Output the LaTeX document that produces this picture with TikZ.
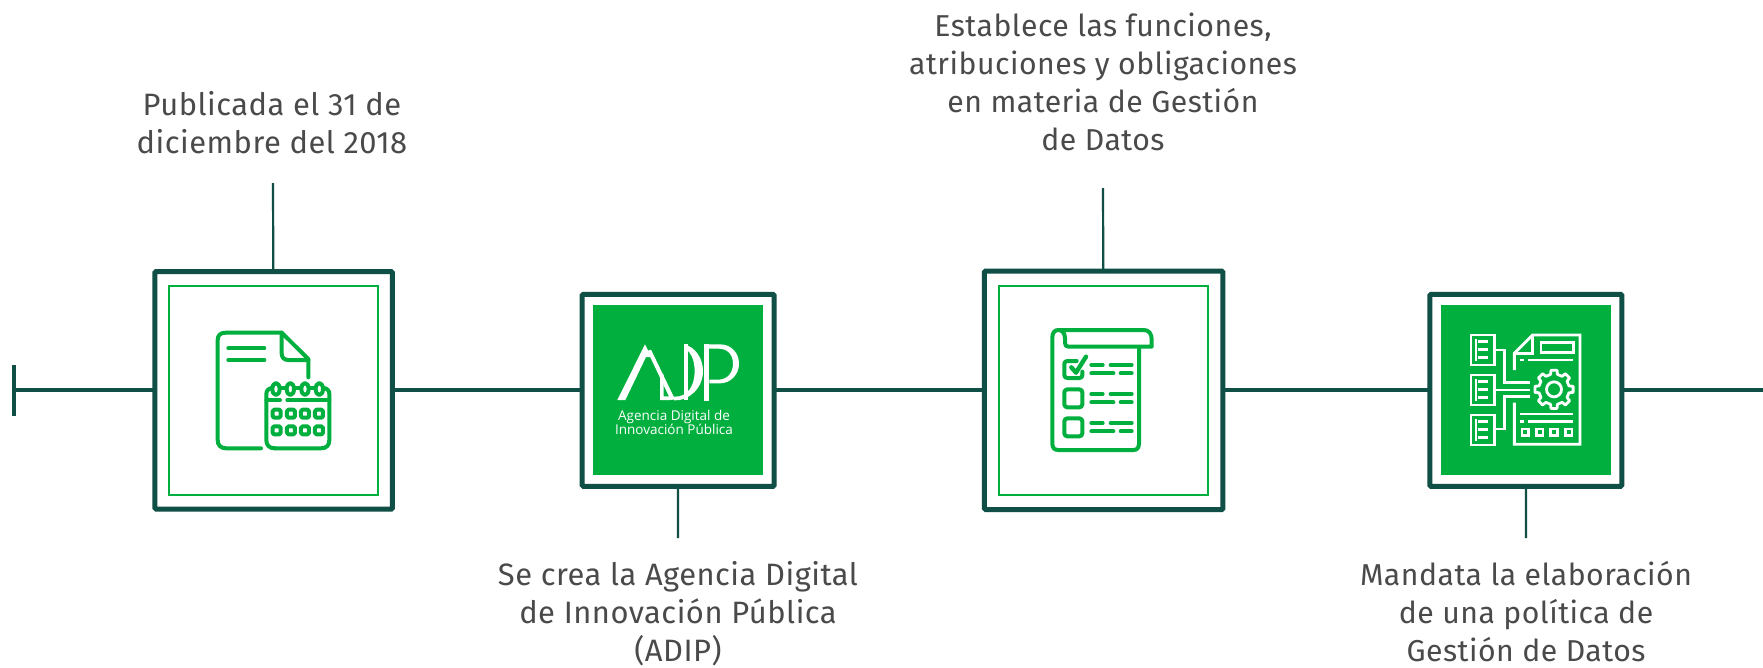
\documentclass[tikz,border=0pt]{standalone}
\usepackage{fontspec}
\setmainfont{Fira Sans}
\newfontfamily\lblfont[LetterSpace=1.6]{Fira Sans}
\newfontfamily\logofont{Open Sans}
\definecolor{teal}{HTML}{0F4F45}
\definecolor{leaf}{HTML}{00AF3E}
\definecolor{ink}{HTML}{4A4A4A}
\tikzset{
  outerbox/.style={draw=teal,line width=5pt,fill=white,rounded corners=1.2pt,inner sep=0pt,outer sep=0pt},
  innerline/.style={draw=leaf,line width=2pt,inner sep=0pt,outer sep=0pt,minimum size=209pt},
  innerfill/.style={fill=leaf,inner sep=0pt,outer sep=0pt,minimum size=170pt},
  maintrack/.style={draw=teal,line width=4pt},
  stem/.style={draw=teal,line width=2.2pt},
  lbl/.style={text=ink,font=\lblfont\fontsize{30.2}{38}\selectfont,align=center,inner sep=0pt},
  lblwide/.style={lbl,font=\lblfont\fontsize{30.9}{38}\selectfont},
  ico/.style={draw=leaf,line width=4pt,line cap=round,line join=round,fill=none},
  wico/.style={draw=white,line width=2.8pt,fill=none},
  zoomed/.style={x=0.33333pt,y=-0.33333pt}
}
\begin{document}
\begin{tikzpicture}[x=1pt,y=-1pt]
\useasboundingbox[fill=white] (0,0) rectangle (1763,667);
% frames
\node[outerbox,minimum size=237.5pt] (a) at (273.7,390.3) {};
\node[innerline] (ai) at (273.3,390.3) {};
\node[outerbox,minimum size=192pt] (b) at (678.2,390.3) {};
\node[innerfill] (bi) at (677.9,390.2) {};
\node[outerbox,minimum size=238.5pt] (c) at (1103.7,390.3) {};
\node[innerline] (ci) at (1103.5,390.2) {};
\node[outerbox,minimum size=192pt] (d) at (1525.8,390.3) {};
\node[innerfill] (di) at (1525.8,390.2) {};
% track
\coordinate (t0) at (14,390.3);
\coordinate (tu) at (14,365);
\coordinate (td) at (14,415.5);
\coordinate (tend) at (1763,390.3);
\draw[maintrack] (tu) -- (td);
\draw[maintrack] (t0) -- (a) (a) -- (b) (b) -- (c) (c) -- (d) (d) -- (tend);
% stems
\coordinate (sa) at (273,183);
\coordinate (sb) at (678,538);
\coordinate (sc) at (1103,188);
\coordinate (sd) at (1526,538);
\draw[stem] (sa) -- (a);
\draw[stem] (sb) -- (b);
\draw[stem] (sc) -- (c);
\draw[stem] (sd) -- (d);
% labels
\node[lblwide] (la) at (272,122.5) {Publicada el 31 de\\diciembre del 2018};
\node[lblwide] (lb) at (678,614) {Se crea la Agencia Digital\\de Innovación Pública\\(ADIP)};
\node[lbl] (lc) at (1103,81.5) {Establece las funciones,\\atribuciones y obligaciones\\en materia de Gestión\\de Datos};
\node[lbl] (ld) at (1526,611.5) {Mandata la elaboración\\de una política de\\Gestión de Datos};
% icon 1: document and calendar
\begin{scope}[shift={(0,240)},zoomed]
\draw[ico] (783,625) -- (680,625) .. controls (662,625) and (653,616) .. (653,600) -- (653,300) .. controls (653,285) and (662,278) .. (678,278) -- (845,278) -- (925,357) -- (925,412);
\draw[ico] (845,278) -- (845,340) .. controls (845,352) and (852,360) .. (865,360) -- (925,360);
\draw[ico] (685,325) -- (793,325);
\draw[ico] (685,360) -- (793,360);
\draw[ico] (825,625) .. controls (808,625) and (799,616) .. (799,600) -- (799,462) .. controls (799,452) and (805,446) .. (815,444);
\draw[ico] (825,625) -- (962,625) .. controls (980,625) and (988,616) .. (988,600) -- (988,462) .. controls (988,452) and (982,446) .. (972,444);
\draw[ico] (799,480) -- (840,480);
\draw[ico] (862,480) -- (988,480);
\draw[ico] (842,445) -- (858,445);
\draw[ico] (885,445) -- (901,445);
\draw[ico] (929,445) -- (945,445);
\foreach \x in {828,871,915,958} {
  \draw[ico,fill=white] (\x,447) ellipse [x radius=11,y radius=18];
}
\foreach \y in {521,571} \foreach \x in {830,873,915,957} {
  \draw[ico,rounded corners=1.5pt] (\x-12,\y-12) rectangle (\x+12,\y+12);
}
\end{scope}
% icon 2: ADIP logo
\begin{scope}[shift={(610,335)},zoomed]
\fill[white] (22,195) -- (105,28) -- (124,66) -- (108,66) -- (46,195) -- cycle;
\fill[white] (112,48) -- (123,44) -- (195,193) -- (182,195) -- cycle;
\fill[white] (150,118) -- (161,118) -- (161,184) -- (178,184) -- (182,195) -- (150,195) -- cycle;
\fill[white] (222,28) -- (233,28) -- (233,195) -- (222,195) -- cycle;
\fill[white] (222,28) .. controls (255,35) and (279,70) .. (279,108) .. controls (279,160) and (235,199) .. (192,196) -- (192,185) .. controls (235,187) and (254,150) .. (254,108) .. controls (254,72) and (240,47) .. (222,40) -- cycle;
\fill[white] (282,28) -- (298,28) -- (298,197) -- (282,197) -- cycle;
\fill[white] (282,28) -- (330,28) .. controls (365,28) and (387,55) .. (387,86) .. controls (387,118) and (362,145) .. (330,145) -- (298,145) -- (298,134) -- (325,134) .. controls (353,134) and (369,112) .. (369,86) .. controls (369,58) and (352,41) .. (325,41) -- (282,41) -- cycle;
\end{scope}
\node[text=white,font=\logofont\fontsize{13.5}{13.3}\selectfont,align=center,inner sep=0pt] (bt) at (674,422.5) {Agencia Digital de\\Innovación Pública};
% icon 3: checklist
\begin{scope}[shift={(970,260)},zoomed]
\draw[ico] (507,262) -- (507,550) .. controls (507,565) and (500,570) .. (490,570) -- (265,570) .. controls (252,570) and (247,563) .. (247,550) -- (247,232) .. controls (247,218) and (254,210) .. (265,210) -- (522,210) .. controls (537,210) and (545,222) .. (545,238) -- (545,260) -- (295,260) .. controls (288,260) and (285,256) .. (285,248) -- (285,235) .. controls (285,220) and (277,210) .. (265,210);
\draw[ico] (337,335) -- (337,345) .. controls (337,351) and (334,354) .. (328,354) -- (292,354) .. controls (286,354) and (283,351) .. (283,345) -- (283,312) .. controls (283,306) and (286,303) .. (292,303) -- (320,303);
\draw[ico,line width=4.4pt] (304,322) -- (318,338) -- (348,290);
\foreach \y in {388,475} {
  \draw[ico,rounded corners=3pt] (283,\y) rectangle (337,\y+54);
}
\foreach \y in {0,87,174} {
  \draw[ico] (364,315+\y) -- (398,315+\y);
  \draw[ico] (422,315+\y) -- (485,315+\y);
  \draw[ico] (364,340+\y) -- (430,340+\y);
  \draw[ico] (452,340+\y) -- (485,340+\y);
}
\end{scope}
% icon 4: documents and gear
\begin{scope}[shift={(1465,330)},zoomed]
\foreach \y in {0,120,240} {
  \draw[wico] (18,15+\y) rectangle (88,105+\y);
  \draw[wico] (38,35+\y) -- (68,35+\y);
  \draw[wico] (38,59+\y) -- (68,59+\y);
  \draw[wico] (38,83+\y) -- (68,83+\y);
  \draw[wico,line width=2pt] (33,28+\y) -- (33,92+\y);
}
\draw[wico] (88,60) -- (118,60) -- (118,158) -- (195,158);
\draw[wico] (88,180) -- (195,180);
\draw[wico] (88,297) -- (118,297) -- (118,200) -- (195,200);
\draw[wico] (148,120) -- (148,70) -- (203,15) -- (345,15) -- (345,343) -- (148,343) -- (148,218);
\draw[wico] (203,15) -- (203,70) -- (148,70);
\draw[wico] (228,38) rectangle (325,68);
\draw[wico] (166,90) -- (178,90);
\draw[wico] (190,90) -- (325,90);
\draw[wico] (165,252) -- (325,252);
\draw[wico] (166,275) -- (178,275);
\draw[wico] (190,275) -- (325,275);
\foreach \x in {181,224,267,311} {
  \draw[wico] (\x-10,297) rectangle (\x+10,317);
}
\begin{scope}[shift={(267,178)}]
\draw[wico,line join=round] (-13:46)
  \foreach \a in {0,45,...,315} { -- (\a-13:46) -- (\a-9:58) -- (\a+9:58) -- (\a+13:46) }
  -- cycle;
\draw[wico] (0,0) circle [radius=7.5pt];
\end{scope}
\end{scope}
\end{tikzpicture}
\end{document}
